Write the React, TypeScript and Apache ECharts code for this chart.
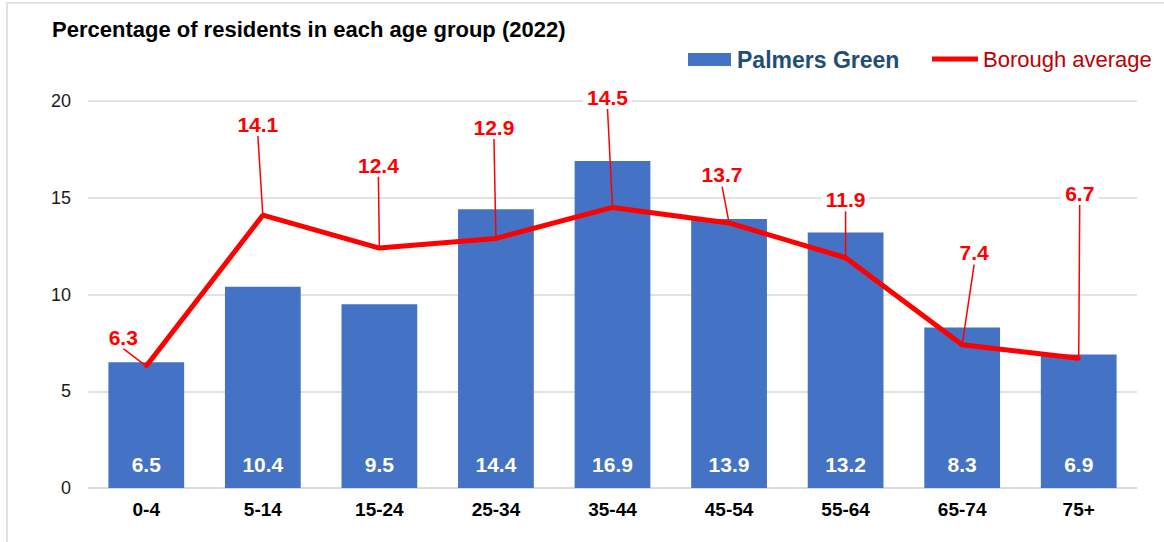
import React, { useEffect, useRef } from "react";
import * as echarts from "echarts";

const categories = ["0-4", "5-14", "15-24", "25-34", "35-44", "45-54", "55-64", "65-74", "75+"];
const palmersGreen = [6.5, 10.4, 9.5, 14.4, 16.9, 13.9, 13.2, 8.3, 6.9];
const boroughAverage = [6.3, 14.1, 12.4, 12.9, 14.5, 13.7, 11.9, 7.4, 6.7];
const yTicks = { min: 0, max: 20, interval: 5 };

// label offsets (style only) for the borough average callouts
const labelDx = [-23, -5, -1, -2, -5, -7, 0, 12, 1];
const labelDy = [-29, -91, -83, -111, -110, -48, -58, -92, -165];

const FONT = "'Liberation Sans', Arial, sans-serif";

export default function App() {
  const ref = useRef<HTMLDivElement>(null);
  useEffect(() => {
    if (!ref.current) return;
    const chart = echarts.init(ref.current, undefined, { renderer: "svg" });
    chart.setOption({
      animation: false,
      backgroundColor: "#fff",
      textStyle: { fontFamily: FONT },
      title: {
        text: "Percentage of residents in each age group (2022)",
        left: 52,
        top: 18,
        padding: 0,
        textStyle: { fontFamily: FONT, fontSize: 22, fontWeight: "bold", color: "#000" },
      },
      graphic: [
        {
          type: "rect",
          shape: { x: 7, y: 3, width: 1170, height: 560 },
          style: { fill: "none", stroke: "#D9D9D9", lineWidth: 1.5 },
          silent: true,
          z: -10,
        },
      ],
      legend: [
        {
          data: ["Palmers Green"],
          left: 688,
          top: 48,
          padding: 0,
          icon: "rect",
          itemWidth: 43,
          itemHeight: 13,
          itemGap: 0,
          textStyle: { fontFamily: FONT, fontSize: 23, fontWeight: "bold", color: "#1F4E79", padding: [0, 0, 0, 1] },
        },
        {
          data: ["Borough average"],
          left: 932,
          top: 48,
          padding: 0,
          icon: "rect",
          itemWidth: 46,
          itemHeight: 5,
          itemGap: 0,
          textStyle: { fontFamily: FONT, fontSize: 22, color: "#C00000", padding: [0, 0, 0, 0] },
        },
      ],
      grid: { left: 88, right: 27, top: 101, bottom: 54, containLabel: false },
      xAxis: {
        type: "category",
        data: categories,
        axisLine: { show: true, lineStyle: { color: "#D9D9D9", width: 1.5 } },
        axisTick: { show: false },
        axisLabel: { fontFamily: FONT, fontSize: 19, fontWeight: "bold", color: "#000", margin: 12 },
      },
      yAxis: {
        type: "value",
        min: yTicks.min,
        max: yTicks.max,
        interval: yTicks.interval,
        axisLine: { show: false },
        axisTick: { show: false },
        splitLine: { lineStyle: { color: "#D9D9D9", width: 1.5 } },
        axisLabel: { fontFamily: FONT, fontSize: 18, color: "#1a1a1a", margin: 17 },
      },
      series: [
        {
          name: "Palmers Green",
          type: "bar",
          data: palmersGreen,
          barCategoryGap: "35%",
          itemStyle: { color: "#4472C4" },
          label: {
            show: true,
            position: "insideBottom",
            distance: 13,
            fontFamily: FONT,
            fontSize: 21,
            fontWeight: "bold",
            color: "#fff",
          },
          z: 2,
        },
        {
          name: "Borough average",
          type: "line",
          data: boroughAverage,
          symbol: "circle",
          symbolSize: 4,
          showSymbol: true,
          itemStyle: { color: "#FF0000" },
          lineStyle: { color: "#FF0000", width: 5 },
          label: {
            show: true,
            position: "inside",
            fontFamily: FONT,
            fontSize: 21,
            fontWeight: "bold",
            color: "#FF0000",
            backgroundColor: "#fff",
            padding: [1, 4],
          },
          labelLine: { show: true, lineStyle: { color: "#FF0000", width: 1.5 } },
          labelLayout: (params: any) => ({
            dx: labelDx[params.dataIndex],
            dy: labelDy[params.dataIndex],
          }),
          z: 3,
        },
      ],
    });
    return () => chart.dispose();
  }, []);
  return (
    <div
      ref={ref}
      style={{ position: "absolute", left: 0, top: 0, width: 1164, height: 542 }}
    />
  );
}
